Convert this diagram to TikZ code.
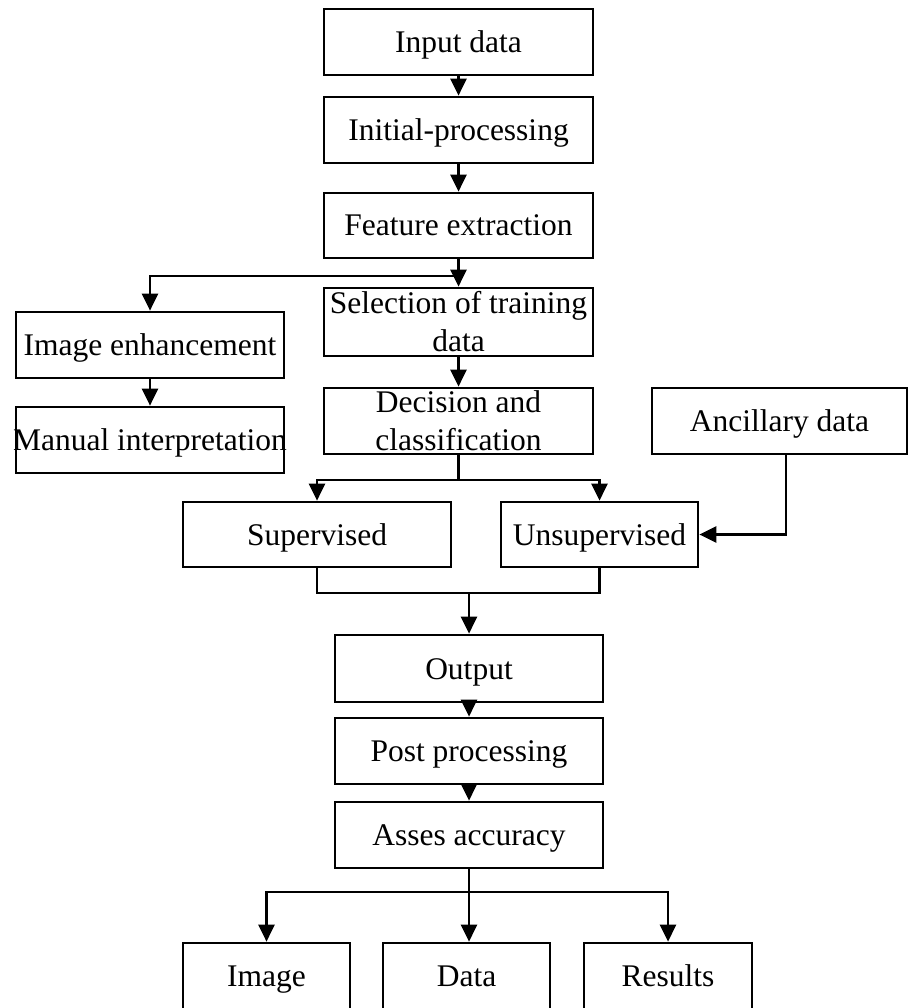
\documentclass[tikz,border=0pt]{standalone}
\usepackage{fontspec}
\setmainfont{Liberation Serif}
\usetikzlibrary{arrows.meta,fit}
\begin{document}
\begin{tikzpicture}[x=1pt,y=-1pt,
  box/.style={draw, line width=2.7pt, inner sep=0pt},
  lbl/.style={anchor=base, inner sep=0pt, font=\fontsize{31.5}{37}\selectfont},
  conn/.style={line width=2.7pt},
  arr/.style={conn, -{Triangle[width=16pt,length=17pt]}}]
\useasboundingbox (0,0) rectangle (911,1008);
% boxes
\node[box, fit={(324,9) (593,75)}] (in) {};
\node[box, fit={(324,97) (593,163)}] (init) {};
\node[box, fit={(324,193) (593,258)}] (feat) {};
\node[box, fit={(324,288) (593,356)}] (sel) {};
\node[box, fit={(324,388) (593,454)}] (dec) {};
\node[box, fit={(16,312) (284,378)}] (enh) {};
\node[box, fit={(16,407) (284,473)}] (man) {};
\node[box, fit={(652,388) (907,454)}] (anc) {};
\node[box, fit={(183,502) (451,567)}] (sup) {};
\node[box, fit={(501,502) (698,567)}] (uns) {};
\node[box, fit={(335,635) (603,702)}] (out) {};
\node[box, fit={(335,718) (603,784)}] (post) {};
\node[box, fit={(335,802) (603,868)}] (asses) {};
\node[box, fit={(183,943) (350,1012)}] (img) {};
\node[box, fit={(383,943) (550,1012)}] (data) {};
\node[box, fit={(584,943) (752,1012)}] (res) {};
% labels
\node[lbl] (tin) at (458.5,53) {Input data};
\node[lbl] (tinit) at (458.5,140.5) {Initial-processing};
\node[lbl] (tfeat) at (458.5,236) {Feature extraction};
\node[lbl] (tsel1) at (458.5,313) {Selection of training};
\node[lbl] (tsel2) at (458.5,351) {data};
\node[lbl] (tdec1) at (458.5,412) {Decision and};
\node[lbl] (tdec2) at (458.5,450) {classification};
\node[lbl] (tenh) at (150,355.5) {Image enhancement};
\node[lbl] (tman) at (150,450.5) {Manual interpretation};
\node[lbl] (tanc) at (779.5,431.5) {Ancillary data};
\node[lbl] (tsup) at (317,545) {Supervised};
\node[lbl] (tuns) at (599.5,545) {Unsupervised};
\node[lbl] (tout) at (469,679) {Output};
\node[lbl] (tpost) at (469,761.5) {Post processing};
\node[lbl] (tasses) at (469,845.5) {Asses accuracy};
\node[lbl] (timg) at (266.5,986.5) {Image};
\node[lbl] (tdata) at (466.5,986.5) {Data};
\node[lbl] (tres) at (668,986.5) {Results};
% connectors
\coordinate (fsplit) at (458.5,276);
\coordinate (dsplit) at (458.5,480);
\coordinate (ancx) at (786,454);
\coordinate (m) at (469,593);
\coordinate (asplit) at (469,892);
\draw[arr] (in.south) -- (init.north);
\draw[arr] (init.south) -- (feat.north);
\draw[arr] (feat.south) -- (sel.north);
\draw[arr] (fsplit) -| (enh.north);
\draw[arr] (enh.south) -- (man.north);
\draw[arr] (sel.south) -- (dec.north);
\draw[conn] (dec.south) -- (dsplit);
\draw[arr] (dsplit) -| (sup.north);
\draw[arr] (dsplit) -| (uns.north);
\draw[arr] (ancx) |- (uns.east);
\draw[conn] (sup.south) -- (sup.south |- m) -- (uns.south |- m) -- (uns.south);
\draw[arr] (m) -- (out.north);
\draw[arr] (out.south) -- (post.north);
\draw[arr] (post.south) -- (asses.north);
\draw[conn] (asses.south) -- (asplit);
\draw[arr] (asplit) -| (img.north);
\draw[arr] (asplit) -| (res.north);
\draw[arr] (asplit) -- (asplit |- data.north);
\end{tikzpicture}
\end{document}
